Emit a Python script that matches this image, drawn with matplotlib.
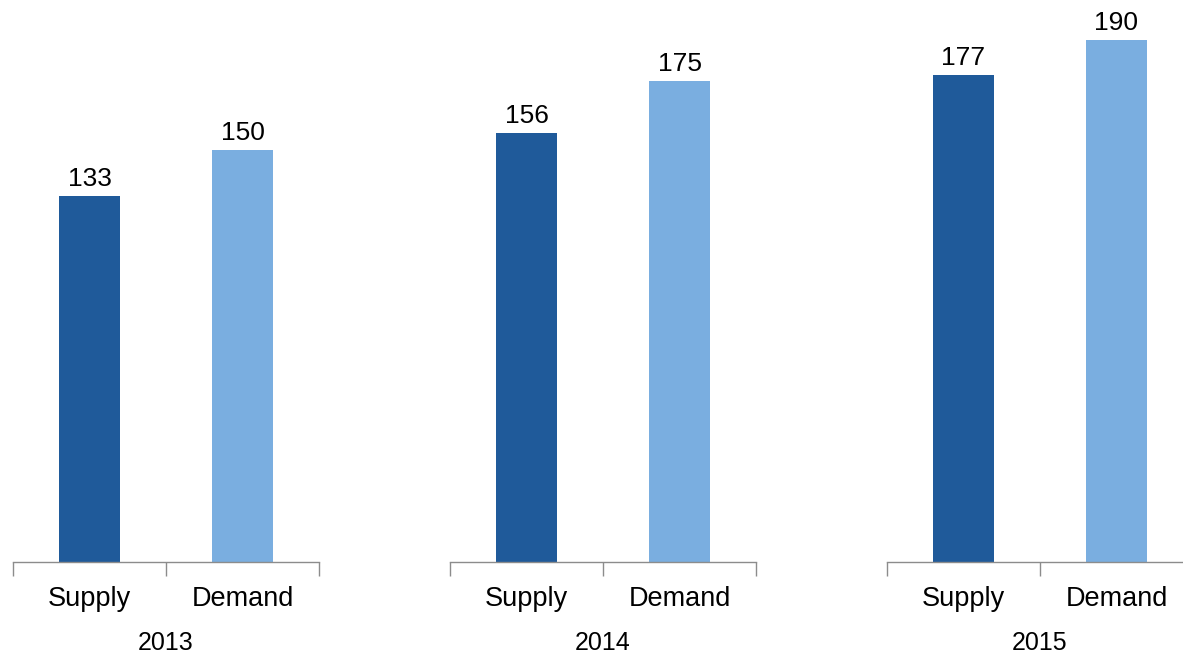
import matplotlib
matplotlib.use('Agg')
import matplotlib.pyplot as plt

plt.rcParams['font.family'] = ['Liberation Sans', 'DejaVu Sans']

years = ['2013', '2014', '2015']
categories = ['Supply', 'Demand']
supply = [133, 156, 177]
demand = [150, 175, 190]

bar_colors = ['#1f5a9a', '#7aaee0']
axis_color = '#8c8c8c'

fig = plt.figure(figsize=(11.83, 6.56), dpi=100)
W, H = 1183, 656

panel_lefts = [13, 450, 887]
panel_width = 306
baseline = 562

for i, year in enumerate(years):
    ax = fig.add_axes([panel_lefts[i] / W, (H - baseline) / H,
                       panel_width / W, baseline / H])
    values = [supply[i], demand[i]]
    bars = ax.bar(range(len(categories)), values, width=0.4, color=bar_colors)
    # value labels just above each bar
    for b, v in zip(bars, values):
        ax.annotate(str(v), (b.get_x() + b.get_width() / 2, v),
                    xytext=(0, 3.5), textcoords='offset points',
                    ha='center', va='bottom', fontsize=19)

    ax.set_xlim(-0.5, 1.5)
    ax.set_ylim(0, 204.4)
    for side in ['top', 'right', 'left']:
        ax.spines[side].set_visible(False)
    ax.spines['bottom'].set_color(axis_color)
    ax.spines['bottom'].set_linewidth(1.0)
    ax.set_yticks([])

    ax.set_xticks(range(len(categories)))
    ax.set_xticklabels(categories, fontsize=19.5)
    ax.tick_params(axis='x', which='major', length=0, pad=17)
    # separators between categories
    ax.set_xticks([-0.5, 0.5, 1.5], minor=True)
    ax.tick_params(axis='x', which='minor', length=10, color=axis_color,
                   width=1.0, direction='out')
    ax.set_xlabel(year, fontsize=18, labelpad=14)

fig.savefig('out.png', dpi=100)
